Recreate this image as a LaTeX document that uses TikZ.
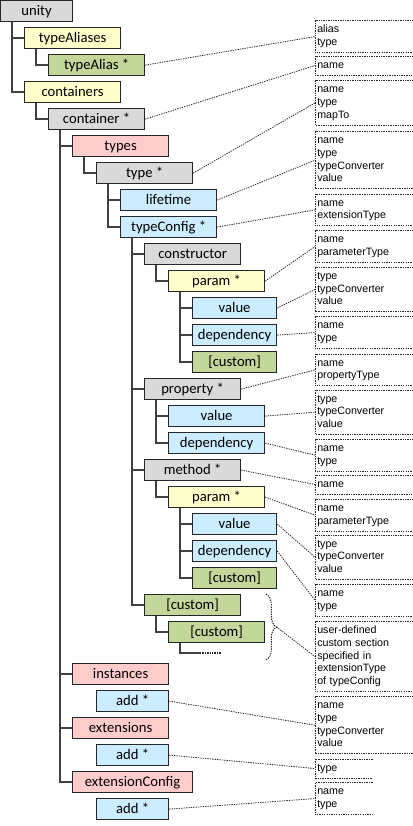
\documentclass[tikz,border=0pt]{standalone}
\usepackage{fontspec}
\newfontfamily\elemfont{Carlito}
\newfontfamily\attrfont{Liberation Sans}
\usetikzlibrary{decorations.pathreplacing}

\definecolor{elgray}{HTML}{D9D9D9}
\definecolor{elyellow}{HTML}{FFFFCC}
\definecolor{elgreen}{HTML}{C4D79B}
\definecolor{elpink}{HTML}{FFCCCC}
\definecolor{elblue}{HTML}{CCECFF}
\definecolor{branchcol}{HTML}{404040}

\tikzset{
  elem/.style={draw=black!85, line width=0.9pt, anchor=north west, inner sep=0pt,
    minimum width=72pt, minimum height=15.75pt, text height=10pt, text depth=3pt,
    font=\elemfont\fontsize{11}{13}\selectfont},
  gray/.style={elem, fill=elgray},
  yellow/.style={elem, fill=elyellow},
  green/.style={elem, fill=elgreen},
  pink/.style={elem, fill=elpink},
  blue/.style={elem, fill=elblue},
  branch/.style={draw=branchcol, line width=1.1pt},
  link/.style={draw=black!85, line width=0.6pt, dash pattern=on 1pt off 0.8pt},
  attr/.style={anchor=north west, align=left, inner xsep=1.5pt, inner ysep=2.2pt,
    text width=70.5pt, font=\attrfont\fontsize{8}{9.5}\selectfont,
    execute at begin node=\strut, execute at end node=\strut},
  shortattr/.style={attr, text width=39.75pt}
}

\begin{document}
\begin{tikzpicture}[x=0.75pt, y=-0.75pt]
\useasboundingbox (0,0) rectangle (413,826);

% element tree
\node [gray, minimum width=54pt] (unity) at (0,0) {unity};
\node [yellow] (aliases) at (24,27) {typeAliases};
\node [green] (alias) at (48,54) {typeAlias *};
\node [yellow] (containers) at (24,81) {containers};
\node [gray] (container) at (48,108) {container *};
\node [pink] (types) at (72,135) {types};
\node [gray] (type) at (96,162) {type *};
\node [blue] (lifetime) at (120,189) {lifetime};
\node [blue] (typeconfig) at (120,216) {typeConfig *};
\node [gray] (ctor) at (144,243) {constructor};
\node [yellow] (ctorparam) at (168,270) {param *};
\node [blue, minimum width=63pt] (ctorvalue) at (192,297) {value};
\node [blue, minimum width=63pt] (ctordep) at (192,324) {dependency};
\node [green, minimum width=63pt] (ctorcustom) at (192,351) {[custom]};
\node [gray] (prop) at (144,378) {property *};
\node [blue] (propvalue) at (168,405) {value};
\node [blue] (propdep) at (168,432) {dependency};
\node [gray] (method) at (144,459) {method *};
\node [yellow] (methparam) at (168,486) {param *};
\node [blue, minimum width=63pt] (methvalue) at (192,513) {value};
\node [blue, minimum width=63pt] (methdep) at (192,540) {dependency};
\node [green, minimum width=63pt] (methcustom) at (192,567) {[custom]};
\node [green] (custom) at (144,594) {[custom]};
\node [green] (subcustom) at (168,621) {[custom]};
\coordinate (more) at (200,653);
\coordinate (moreend) at (221,653);
\node [pink] (instances) at (72,663) {instances};
\node [blue, minimum width=54pt] (instadd) at (96,690) {add *};
\node [pink] (extensions) at (72,717) {extensions};
\node [blue, minimum width=54pt] (extadd) at (96,744) {add *};
\node [pink, minimum width=90pt] (extconfig) at (72,771) {extensionConfig};
\node [blue, minimum width=54pt] (cfgadd) at (96,798) {add *};

% branches
\draw [branch] ([xshift=9pt]unity.south west) |- (aliases.west);
\draw [branch] ([xshift=9pt]unity.south west) |- (containers.west);
\draw [branch] ([xshift=9pt]aliases.south west) |- (alias.west);
\draw [branch] ([xshift=9pt]containers.south west) |- (container.west);
\draw [branch] ([xshift=9pt]container.south west) |- (types.west);
\draw [branch] ([xshift=9pt]container.south west) |- (instances.west);
\draw [branch] ([xshift=9pt]container.south west) |- (extensions.west);
\draw [branch] ([xshift=9pt]container.south west) |- (extconfig.west);
\draw [branch] ([xshift=9pt]types.south west) |- (type.west);
\draw [branch] ([xshift=9pt]type.south west) |- (lifetime.west);
\draw [branch] ([xshift=9pt]type.south west) |- (typeconfig.west);
\draw [branch] ([xshift=9pt]typeconfig.south west) |- (ctor.west);
\draw [branch] ([xshift=9pt]typeconfig.south west) |- (prop.west);
\draw [branch] ([xshift=9pt]typeconfig.south west) |- (method.west);
\draw [branch] ([xshift=9pt]typeconfig.south west) |- (custom.west);
\draw [branch] ([xshift=9pt]ctor.south west) |- (ctorparam.west);
\draw [branch] ([xshift=9pt]ctorparam.south west) |- (ctorvalue.west);
\draw [branch] ([xshift=9pt]ctorparam.south west) |- (ctordep.west);
\draw [branch] ([xshift=9pt]ctorparam.south west) |- (ctorcustom.west);
\draw [branch] ([xshift=9pt]prop.south west) |- (propvalue.west);
\draw [branch] ([xshift=9pt]prop.south west) |- (propdep.west);
\draw [branch] ([xshift=9pt]method.south west) |- (methparam.west);
\draw [branch] ([xshift=9pt]methparam.south west) |- (methvalue.west);
\draw [branch] ([xshift=9pt]methparam.south west) |- (methdep.west);
\draw [branch] ([xshift=9pt]methparam.south west) |- (methcustom.west);
\draw [branch] ([xshift=9pt]custom.south west) |- (subcustom.west);
\draw [branch] ([xshift=9pt]subcustom.south west) |- (more);
\draw [link, line width=0.8pt] (more) -- (moreend);
\draw [link, line width=0.75pt, decorate, decoration={brace, amplitude=8pt}]
  (266,594) -- (266,660);
\coordinate (bracetip) at (276.5,627);

% attributes
\node [attr] (a1) at (315,20.7) {alias\\type};
\node [attr] (a2) at (315,56) {name};
\node [attr] (a3) at (315,80.7) {name\\type\\mapTo};
\node [attr] (a4) at (315,131.7) {name\\type\\typeConverter\\value};
\node [attr] (a5) at (315,194) {name\\extensionType};
\node [attr] (a6) at (315,230.7) {name\\parameterType};
\node [attr] (a7) at (315,267.3) {type\\typeConverter\\value};
\node [attr] (a8) at (315,316.7) {name\\type};
\node [attr] (a9) at (315,354) {name\\propertyType};
\node [attr] (a10) at (315,390) {type\\typeConverter\\value};
\node [attr] (a11) at (315,439.3) {name\\type};
\node [attr] (a12) at (315,475) {name};
\node [attr] (a13) at (315,499.3) {name\\parameterType};
\node [attr] (a14) at (315,535) {type\\typeConverter\\value};
\node [attr] (a15) at (315,584.3) {name\\type};
\node [attr] (a16) at (315,621.7) {user-defined\\custom section\\specified in\\extensionType\\of typeConfig};
\node [attr] (a17) at (315,696.7) {name\\type\\typeConverter\\value};
\node [shortattr] (a18) at (315,759) {type};
\node [shortattr] (a19) at (315,782.7) {name\\type};
\foreach \a in {a1,a2,a3,a4,a5,a6,a7,a8,a9,a10,a11,a12,a13,a14,a15,a16,a17,a18,a19}
  \draw [link] (\a.north east) -- (\a.north west) -- (\a.south west) -- (\a.south east);

% links
\draw [link] (alias.east) -- (a1.west);
\draw [link] (container.east) -- (a2.west);
\draw [link] (type.east) -- (a3.west);
\draw [link] (lifetime.east) -- (a4.west);
\draw [link] (typeconfig.east) -- (a5.west);
\draw [link] (ctorparam.east) -- (a6.west);
\draw [link] (ctorvalue.east) -- (a7.west);
\draw [link] (ctordep.east) -- (a8.west);
\draw [link] (prop.east) -- (a9.west);
\draw [link] (propvalue.east) -- (a10.west);
\draw [link] (propdep.east) -- (a11.west);
\draw [link] (method.east) -- (a12.west);
\draw [link] (methparam.east) -- (a13.west);
\draw [link] (methvalue.east) -- (a14.west);
\draw [link] (methdep.east) -- (a15.west);
\draw [link] (bracetip) -- (a16.west);
\draw [link] (instadd.east) -- (a17.west);
\draw [link] (extadd.east) -- (a18.west);
\draw [link] (cfgadd.east) -- (a19.west);
\end{tikzpicture}
\end{document}
